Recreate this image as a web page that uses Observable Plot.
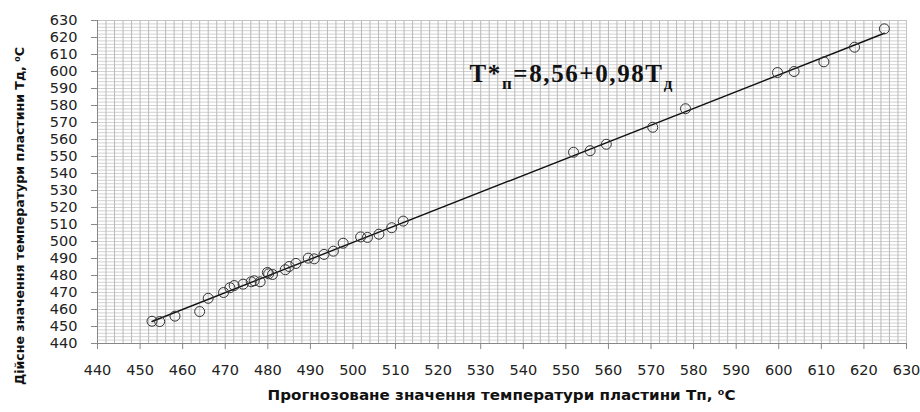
<!DOCTYPE html>
<html>
<head>
<meta charset="utf-8">
<script src="https://cdn.jsdelivr.net/npm/d3@7"></script>
<script src="https://cdn.jsdelivr.net/npm/@observablehq/plot@0.6"></script>
<style>
  html, body { margin: 0; padding: 0; background: #fff; }
  #chart { width: 920px; height: 412px; }
</style>
</head>
<body>
<div id="chart"></div>
<script>
// Predicted plate temperature (x) vs actual (y)
const predicted = [452.8, 454.6, 458.2, 464.0, 466.0, 469.6, 471.1, 472.1, 474.2, 476.1, 476.8, 478.2, 479.9, 480.2, 481.1, 484.1, 485.0, 486.6, 489.5, 490.9, 493.2, 495.4, 497.7, 501.8, 503.4, 506.1, 509.1, 511.8, 551.8, 555.7, 559.5, 570.4, 578.1, 599.7, 603.6, 610.6, 617.8, 624.8];
const actual    = [453.1, 452.9, 456.1, 458.8, 466.6, 470.0, 472.8, 474.1, 474.9, 476.3, 476.9, 476.3, 481.8, 481.0, 480.6, 483.4, 485.3, 487.1, 490.2, 489.8, 492.4, 494.3, 499.0, 502.7, 502.4, 504.3, 508.1, 512.0, 552.5, 553.4, 557.2, 567.2, 578.1, 599.4, 600.0, 605.7, 614.3, 625.1];

const xTicks = [440, 450, 460, 470, 480, 490, 500, 510, 520, 530, 540, 550, 560, 570, 580, 590, 600, 610, 620, 630];
const yTicks = [440, 450, 460, 470, 480, 490, 500, 510, 520, 530, 540, 550, 560, 570, 580, 590, 600, 610, 620, 630];
const gridX = d3.range(440, 631, 2);
const gridY = d3.range(440, 631, 2);

const xLabel = "Прогнозоване значення температури пластини Тп, ⁰С";
const yLabel = "Дійсне значення температури пластини Тд, ⁰С";
const eqParts = [["T*", false], ["п", true], ["=8,56+0,98T", false], ["д", true]];
const eqPos = {x: 527.5, y: 593.5};

const data = predicted.map((p, i) => ({x: p, y: actual[i]}));

const chart = Plot.plot({
  width: 920,
  height: 412,
  marginLeft: 97,
  marginRight: 14,
  marginTop: 20,
  marginBottom: 69,
  style: {fontFamily: "DejaVu Sans", background: "#fff", color: "#222"},
  x: {domain: [440, 630]},
  y: {domain: [440, 630]},
  marks: [
    Plot.ruleY(gridY, {stroke: "#d2d2d2", strokeWidth: 1}),
    Plot.ruleX(gridX, {stroke: "#b9b9b9", strokeWidth: 1}),
    Plot.frame({stroke: "#c4c4c4"}),
    Plot.ruleX([440], {stroke: "#888"}),
    Plot.ruleY([440], {stroke: "#888"}),
    Plot.axisX({ticks: xTicks, tickSize: 6, tickPadding: 15, fontSize: 14.5, label: null, stroke: "#888", fill: "#222", tickFormat: d => String(d), style: "letter-spacing:1px"}),
    Plot.axisY({ticks: yTicks, tickSize: 6, tickPadding: 14, fontSize: 14.5, label: null, stroke: "#888", fill: "#222", tickFormat: d => String(d), style: "letter-spacing:1px"}),
    Plot.linearRegressionY(data, {x: "x", y: "y", ci: 0, stroke: "#111", strokeWidth: 1.4}),
    Plot.dot(data, {x: "x", y: "y", r: 5, stroke: "#333", fill: "none", strokeWidth: 1})
  ]
});

document.getElementById("chart").appendChild(chart);

const sx = chart.scale("x"), sy = chart.scale("y");
const svg = d3.select(chart);

// Axis titles
const x0 = sx.apply(440), x1 = sx.apply(630), y0 = sy.apply(440), y1 = sy.apply(630);
svg.append("text")
  .attr("x", (x0 + x1) / 2)
  .attr("y", y0 + 53)
  .attr("text-anchor", "middle")
  .attr("dominant-baseline", "middle")
  .attr("font-family", "DejaVu Sans")
  .attr("font-weight", "bold")
  .attr("font-size", 14)
  .attr("fill", "#111")
  .attr("textLength", 468)
  .attr("lengthAdjust", "spacingAndGlyphs")
  .text(xLabel);

svg.append("text")
  .attr("transform", `translate(20,${y1 + 196}) rotate(-90)`)
  .attr("text-anchor", "middle")
  .attr("dominant-baseline", "middle")
  .attr("font-family", "DejaVu Sans")
  .attr("font-weight", "bold")
  .attr("font-size", 13)
  .attr("fill", "#111")
  .attr("textLength", 338)
  .attr("lengthAdjust", "spacingAndGlyphs")
  .text(yLabel);

// Regression equation annotation with subscripts, positioned via Plot scales
const eq = svg.append("text")
  .attr("x", sx.apply(eqPos.x))
  .attr("y", sy.apply(eqPos.y))
  .attr("text-anchor", "start")
  .attr("font-family", "Liberation Serif, Times New Roman, serif")
  .attr("font-weight", "bold")
  .attr("font-size", 25)
  .attr("fill", "#111")
  .attr("letter-spacing", "1.6px");
eqParts.forEach(([t, sub], i) => {
  const ts = eq.append("tspan").text(t);
  if (sub) ts.attr("font-size", 17).attr("dy", 7);
  else if (i > 0) ts.attr("dy", -7);
});
</script>
</body>
</html>
